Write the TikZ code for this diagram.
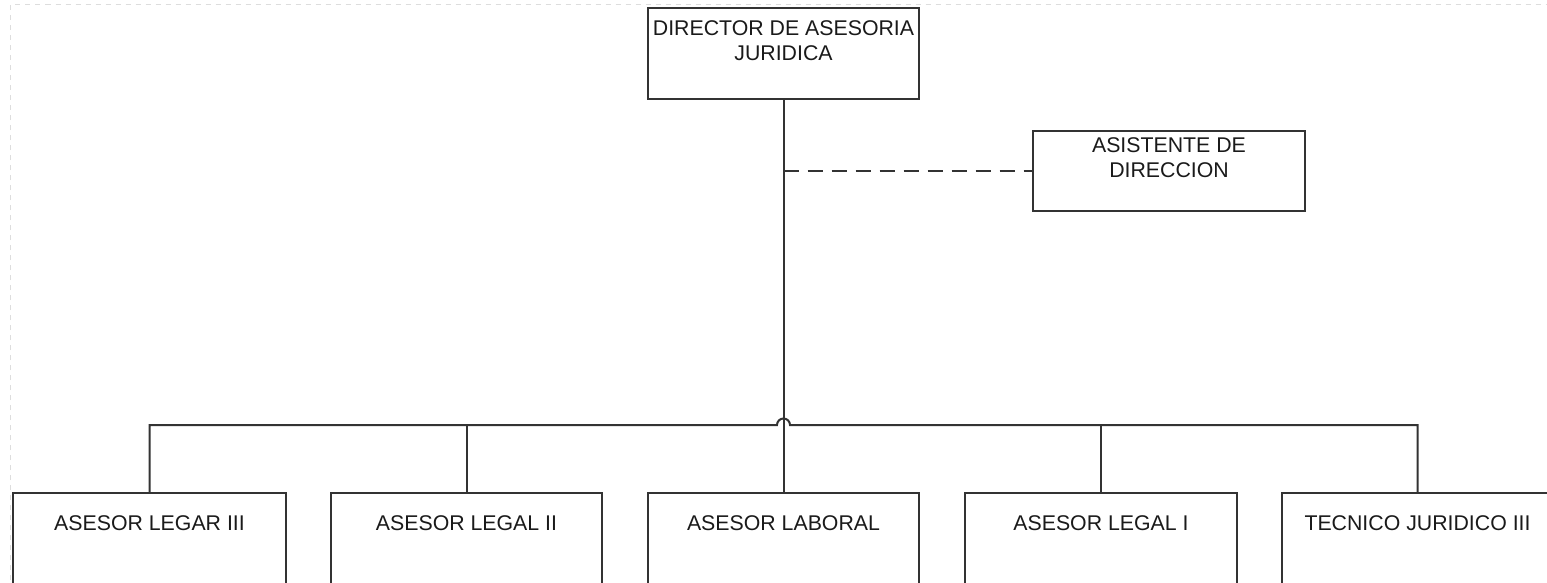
\documentclass[tikz,border=0pt]{standalone}
\usepackage{fontspec}
\setmainfont{Liberation Sans}
\usetikzlibrary{calc}
\definecolor{linec}{HTML}{333333}
\definecolor{txtc}{HTML}{1A1A1A}
\definecolor{pagec}{HTML}{DDDDDD}
\begin{document}
\begin{tikzpicture}[x=1pt,y=-1pt,
  box/.style={draw=linec, line width=2pt, minimum width=271pt, anchor=north west, inner sep=0pt, fill=white},
  txt/.style={font=\fontsize{21.3}{25}\selectfont, text=txtc, align=center, inner sep=0pt},
  conn/.style={draw=linec, line width=2pt},
  dashconn/.style={conn, dash pattern=on 15pt off 9pt}]
\useasboundingbox (0,0) rectangle (1547,583);
\clip (0,0) rectangle (1547,583);
\fill[white] (0,0) rectangle (1547,583);
% faint page border
\draw[pagec, line width=1pt, dash pattern=on 5pt off 5pt] (10.5,700) -- (10.5,5) -- (1600,5);
% boxes
\node[box, minimum height=91pt] (dir) at (647,7) {};
\node[box, minimum width=272pt, minimum height=80pt] (asi) at (1032,130) {};
\node[box, minimum width=273pt, minimum height=100pt] (l3) at (12,492) {};
\node[box, minimum height=100pt] (l2) at (330,492) {};
\node[box, minimum height=100pt] (lab) at (647,492) {};
\node[box, minimum width=272pt, minimum height=100pt] (l1) at (964,492) {};
\node[box, minimum height=100pt] (t3) at (1281,492) {};
% texts
\coordinate (ydir) at (0,20);
\coordinate (yasi) at (0,137.5);
\coordinate (ybot) at (0,523);
\coordinate (ybus) at (0,425);
\node[txt, anchor=north] (dirt) at (dir.north |- ydir) {DIRECTOR DE ASESORIA\\JURIDICA};
\node[txt, anchor=north] (asit) at (asi.north |- yasi) {ASISTENTE DE\\DIRECCION};
\node[txt] (l3t) at (l3.north |- ybot) {ASESOR LEGAR III};
\node[txt] (l2t) at (l2.north |- ybot) {ASESOR LEGAL II};
\node[txt] (labt) at (lab.north |- ybot) {ASESOR LABORAL};
\node[txt] (l1t) at (l1.north |- ybot) {ASESOR LEGAL I};
\node[txt] (t3t) at (t3.north |- ybot) {TECNICO JURIDICO III};
% connectors
\coordinate (jl) at ($(dir.south |- ybus)+(-6.5,0)$);
\draw[conn] (dir.south) -- (lab.north);
\draw[dashconn] (dir.south |- asi.west) -- (asi.west);
\draw[conn] (l3.north) -- (l3.north |- jl) -- (jl) arc[start angle=180, end angle=360, radius=6.5] -- (t3.north |- jl) -- (t3.north);
\draw[conn] (l2.north) -- (l2.north |- jl);
\draw[conn] (l1.north) -- (l1.north |- jl);
\end{tikzpicture}
\end{document}
